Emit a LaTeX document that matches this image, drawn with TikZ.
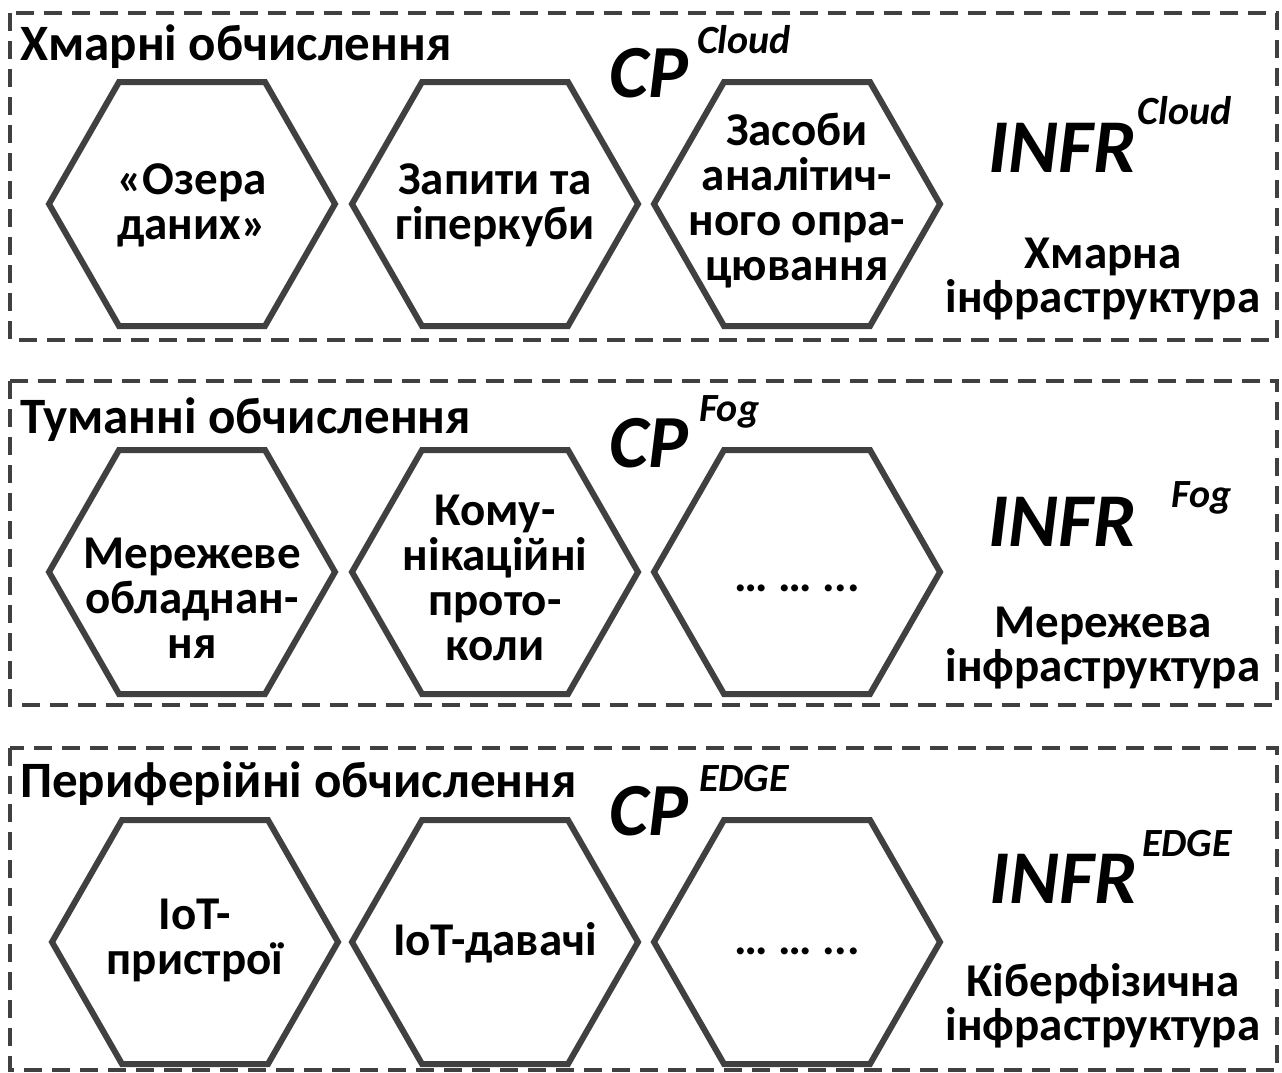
\documentclass[tikz,border=0pt]{standalone}
\usepackage{fontspec}
\setmainfont{Carlito}
\definecolor{linegray}{HTML}{404040}
\tikzset{
  boxline/.style={draw=linegray, line width=4pt, dash pattern=on 18pt off 10pt},
  hexline/.style={draw=linegray, line width=6pt, line join=miter},
  titletext/.style={font=\fontsize{51}{56}\selectfont\bfseries, anchor=base west, inner sep=0pt},
  hextext/.style={font=\fontsize{47}{45}\selectfont\bfseries, align=center, inner sep=0pt},
  cptext/.style={font=\fontsize{75}{82}\selectfont\bfseries\itshape, inner sep=0pt},
  infrtext/.style={font=\fontsize{76}{82}\selectfont\bfseries\itshape, inner sep=0pt},
  suptext/.style={font=\fontsize{40}{44}\selectfont\bfseries\itshape, inner sep=0pt},
  infratext/.style={font=\fontsize{47}{44}\selectfont\bfseries, align=center, inner sep=0pt},
}
\newcommand\hexagonat[1]{\draw[hexline] (#1) ++(-143,0) -- ++(70,-122) -- ++(146,0) -- ++(70,122) -- ++(-70,122) -- ++(-146,0) -- cycle;}
\begin{document}
\begin{tikzpicture}[x=1pt,y=-1pt]
\useasboundingbox (0,0) rectangle (1282,1073);
\fill[white] (0,0) rectangle (1282,1073);
% boxes
\draw[boxline] (10,13) rectangle (1277,340);
\draw[boxline] (10,381) rectangle (1277,705);
\draw[boxline] (10,748) rectangle (1277,1070);
% hexagon centres
\coordinate (c11) at (192,204);
\coordinate (c12) at (495,204);
\coordinate (c13) at (797,204);
\coordinate (c21) at (192,572);
\coordinate (c22) at (495,572);
\coordinate (c23) at (797,572);
\coordinate (c31) at (195,942);
\coordinate (c32) at (495,942);
\coordinate (c33) at (797,942);
\foreach \c in {c11,c12,c13,c21,c22,c23,c31,c32,c33}{\hexagonat{\c}}
% row 1
\node[titletext] (t1) at (20,60) {Хмарні обчислення};
\node[cptext, anchor=base west] (cp1) at (609,97) {CP};
\node[suptext, anchor=base west] (cps1) at (697,53) {Cloud};
\node[infrtext, anchor=base east] (in1) at (1136,172) {INFR};
\node[suptext, anchor=base east] (ins1) at (1232,124) {Cloud};
\node[infratext] (r1) at (1103,279) {Хмарна\\інфраструктура};
\node[hextext] (h11) at (192,205) {«Озера\\даних»};
\node[hextext] (h12) at (495,205) {Запити та\\гіперкуби};
\node[hextext] (h13) at (797,201) {Засоби\\аналітич-\\ного опра-\\цювання};
% row 2
\node[titletext] (t2) at (20,433) {Туманні обчислення};
\node[cptext, anchor=base west] (cp2) at (609,467) {CP};
\node[suptext, anchor=base west] (cps2) at (699,421) {Fog};
\node[infrtext, anchor=base east] (in2) at (1136,546) {INFR};
\node[suptext, anchor=base east] (ins2) at (1232,507) {Fog};
\node[infratext] (r2) at (1103,648) {Мережева\\інфраструктура};
\node[hextext] (h21) at (192,598) {Мережеве\\обладнан-\\ня};
\node[hextext] (h22) at (495,578) {Кому-\\нікаційні\\прото-\\коли};
\node[hextext] (h23) at (797,588) {… … ...};
% row 3
\node[titletext] (t3) at (20,797) {Периферійні обчислення};
\node[cptext, anchor=base west] (cp3) at (609,835) {CP};
\node[suptext, anchor=base west] (cps3) at (699,791) {EDGE};
\node[infrtext, anchor=base east] (in3) at (1137,903) {INFR};
\node[suptext, anchor=base east] (ins3) at (1232,856) {EDGE};
\node[infratext] (r3) at (1103,1006) {Кіберфізична\\інфраструктура};
\node[hextext] (h31) at (195,940) {IoT-\\пристрої};
\node[hextext] (h32) at (495,943) {IoT-давачі};
\node[hextext] (h33) at (797,951) {… … ...};
\end{tikzpicture}
\end{document}
